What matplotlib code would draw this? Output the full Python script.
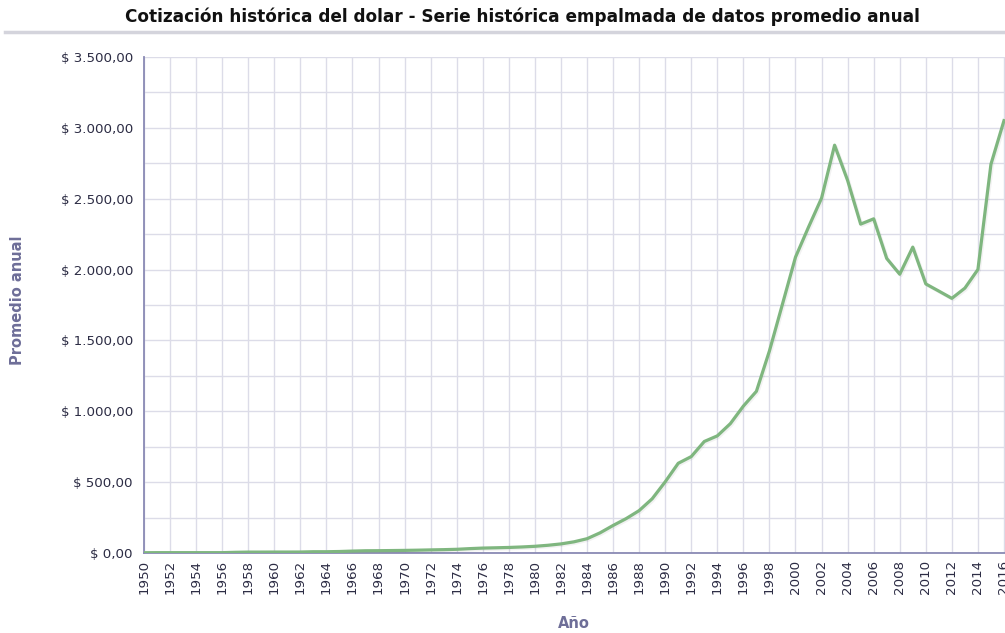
import numpy as np
import matplotlib
matplotlib.use("Agg")
import matplotlib.pyplot as plt
import matplotlib.patheffects as pe
from matplotlib.ticker import FuncFormatter, MultipleLocator

years = list(range(1950, 2017))
promedio = [
    1.96, 2.50, 2.51, 2.51, 2.51, 2.51, 2.51, 4.82, 6.40, 6.40,
    6.70, 6.70, 6.90, 9.00, 9.00, 10.5, 13.5, 15.8, 16.3, 17.3,
    18.4, 19.9, 21.9, 23.6, 26.1, 30.9, 34.7, 36.8, 39.1, 42.6,
    47.3, 54.5, 64.1, 78.9, 100.8, 142.3, 194.3, 242.6, 299.2, 382.6,
    502.3, 633.1, 680.3, 786.9, 826.6, 912.8, 1036.7, 1141.0, 1426.0, 1756.2,
    2087.9, 2299.6, 2504.2, 2877.7, 2628.6, 2320.8, 2358.0, 2078.4, 1967.1, 2158.3,
    1898.7, 1848.2, 1797.0, 1869.1, 2000.7, 2743.4, 3050.9,
]

titulo = "Cotización histórica del dolar - Serie histórica empalmada de datos promedio anual"
label_x = "Año"
label_y = "Promedio anual"

W, H = 1005, 633
fig = plt.figure(figsize=(W / 100, H / 100), dpi=100)
ax = fig.add_axes([144 / W, 1 - 553 / H, 1 - 144 / W, (553 - 57) / H])

line_color = "#7fb67f"
ax.plot(years, promedio, color=line_color, lw=2.3, solid_joinstyle="round",
        path_effects=[pe.SimpleLineShadow(offset=(1, -1), shadow_color="black", alpha=0.05),
                      pe.Normal()], zorder=3)

ax.set_xlim(1950, 1950 + (W - 144) / 13.03)
ax.set_ylim(0, 3500)

ax.xaxis.set_major_locator(MultipleLocator(2))
ax.yaxis.set_major_locator(MultipleLocator(500))
ax.yaxis.set_minor_locator(MultipleLocator(250))


def fmt_peso(v, pos):
    s = f"{v:,.2f}".replace(",", "X").replace(".", ",").replace("X", ".")
    return "$ " + s


ax.yaxis.set_major_formatter(FuncFormatter(fmt_peso))
ax.xaxis.set_major_formatter(FuncFormatter(lambda v, p: f"{int(v)}"))

grid_col = "#dcdce8"
ax.grid(True, which="major", axis="x", color=grid_col, lw=1)
ax.grid(True, which="both", axis="y", color=grid_col, lw=1)
ax.set_axisbelow(True)

for s in ["top", "right"]:
    ax.spines[s].set_visible(False)
axis_col = "#8a8ab4"
ax.spines["left"].set_color(axis_col)
ax.spines["bottom"].set_color(axis_col)
ax.spines["left"].set_linewidth(1.3)
ax.spines["bottom"].set_linewidth(1.3)

tick_col = "#2c2c44"
ax.tick_params(axis="both", which="both", length=0, colors=tick_col, labelsize=9.6)
ax.tick_params(axis="x", rotation=90, pad=5)
ax.tick_params(axis="y", pad=8)

lab_col = "#6e6e98"
fig.text(18 / W, 1 - 300 / H, label_y, rotation=90, ha="center", va="center",
         fontsize=10.5, fontweight="bold", color=lab_col)
fig.text(574 / W, 1 - 623 / H, label_x, ha="center", va="center",
         fontsize=10.5, fontweight="bold", color=lab_col)

fig.text(522 / W, 1 - 17 / H, titulo, ha="center", va="center",
         fontsize=12.2, fontweight="bold", color="#111111")
fig.add_artist(plt.Line2D([5 / W, 1], [1 - 32 / H, 1 - 32 / H], color="#d4d4dc", lw=2.5))

fig.savefig("out.png", dpi=100)
